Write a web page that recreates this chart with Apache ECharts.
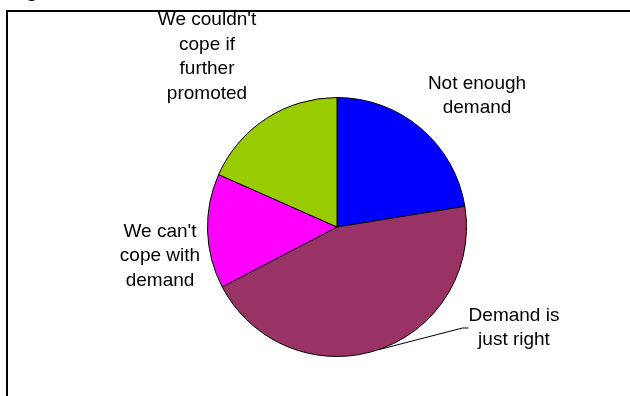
<!DOCTYPE html>
<html>
<head>
<meta charset="utf-8">
<script src="https://cdn.jsdelivr.net/npm/echarts@6/dist/echarts.min.js"></script>
<style>
  html, body { margin: 0; padding: 0; background: #fff; }
  #chart { width: 630px; height: 396px; }
</style>
</head>
<body>
<div id="chart"></div>
<script>
// answers, clockwise from 12 o'clock
const categories = [
  'Not enough\ndemand',
  'Demand is\njust right',
  "We can't\ncope with\ndemand",
  "We couldn't\ncope if\nfurther\npromoted",
];
const counts = [11, 22, 7, 9];
const sliceColors = ['#0000ff', '#993366', '#ff00ff', '#99cc00'];

// where each label sits (centre of text block), Excel-style
const labelSpots = [[477, 96], [514, 328], [160, 256], [207, 57]];
const withLeader = [false, true, false, false];

const chart = echarts.init(document.getElementById('chart'), null, { renderer: 'canvas' });

const data = categories.map((name, i) => ({
  name,
  value: counts[i],
  itemStyle: { color: sliceColors[i] },
  labelLine: { show: withLeader[i] },
}));

chart.setOption({
  animation: false,
  backgroundColor: '#fff',
  graphic: [
    // frame, only top and left edges fall inside the picture
    {
      type: 'rect',
      shape: { x: 7, y: 11, width: 700, height: 500 },
      style: { fill: 'none', stroke: '#000', lineWidth: 2 },
      silent: true,
    },
    // title is cropped off, only the descender shows
    {
      type: 'text',
      left: 8,
      top: -19,
      style: { text: 'Figure', fill: '#000', font: 'bold 20px "Liberation Sans", Arial, sans-serif' },
      silent: true,
    },
  ],
  series: [
    {
      type: 'pie',
      center: [337, 227],
      radius: 129.5,
      startAngle: 90,
      clockwise: true,
      data,
      itemStyle: { borderColor: '#000', borderWidth: 1 },
      label: {
        show: true,
        position: 'outside',
        color: '#000',
        fontFamily: '"Liberation Sans", Arial, sans-serif',
        fontSize: 19,
        lineHeight: 24.5,
        align: 'center',
      },
      labelLine: {
        show: false,
        length2: 6,
        lineStyle: { color: '#000', width: 1 },
      },
      labelLayout: (params) => {
        const p = labelSpots[params.dataIndex];
        return { x: p[0], y: p[1], align: 'center', verticalAlign: 'middle' };
      },
      emphasis: { disabled: true },
    },
  ],
});
</script>
</body>
</html>
